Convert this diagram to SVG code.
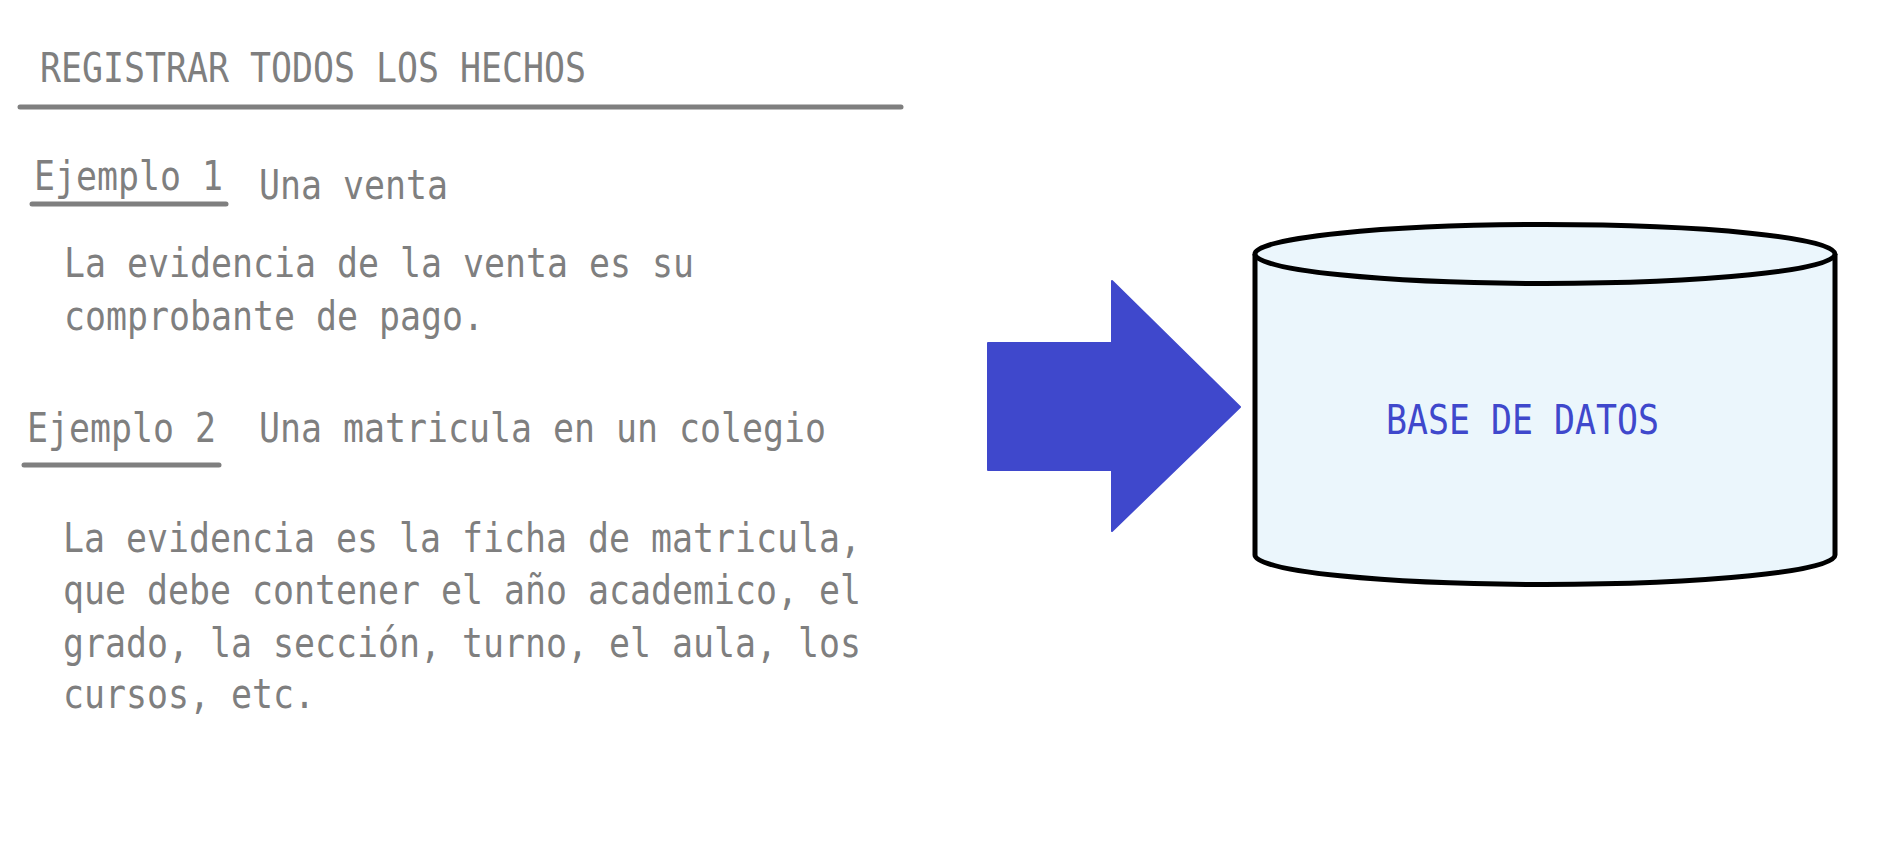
<svg xmlns="http://www.w3.org/2000/svg" width="1889" height="849" viewBox="0 0 1889 849">
<style>
.t{font-family:"DejaVu Sans Mono","Liberation Mono",monospace;font-size:40px;fill:#7F7F7F}
.u{stroke:#7F7F7F;stroke-width:5;stroke-linecap:round;fill:none}
.db{font-family:"DejaVu Sans Mono","Liberation Mono",monospace;font-size:40px;fill:#3F48CC}
</style>
<rect width="1889" height="849" fill="#FFFFFF"/>
<g id="title">
<text class="t" x="40" y="82" textLength="546" lengthAdjust="spacingAndGlyphs">REGISTRAR TODOS LOS HECHOS</text>
<line class="u" x1="20" y1="107" x2="901" y2="107"/>
</g>
<g id="ejemplo1">
<text class="t" x="34" y="190" textLength="189" lengthAdjust="spacingAndGlyphs">Ejemplo 1</text>
<line class="u" x1="32" y1="204" x2="226" y2="204"/>
<text class="t" x="259" y="199" textLength="189" lengthAdjust="spacingAndGlyphs">Una venta</text>
<text class="t" x="64" y="277" textLength="630" lengthAdjust="spacingAndGlyphs">La evidencia de la venta es su</text>
<text class="t" x="64" y="330" textLength="420" lengthAdjust="spacingAndGlyphs">comprobante de pago.</text>
</g>
<g id="ejemplo2">
<text class="t" x="27" y="442" textLength="189" lengthAdjust="spacingAndGlyphs">Ejemplo 2</text>
<line class="u" x1="24" y1="465" x2="219" y2="465"/>
<text class="t" x="259" y="442" textLength="567" lengthAdjust="spacingAndGlyphs">Una matricula en un colegio</text>
<text class="t" x="63" y="552" textLength="798" lengthAdjust="spacingAndGlyphs">La evidencia es la ficha de matricula,</text>
<text class="t" x="63" y="604" textLength="798" lengthAdjust="spacingAndGlyphs">que debe contener el año academico, el</text>
<text class="t" x="63" y="657" textLength="798" lengthAdjust="spacingAndGlyphs">grado, la sección, turno, el aula, los</text>
<text class="t" x="63" y="708" textLength="252" lengthAdjust="spacingAndGlyphs">cursos, etc.</text>
</g>
<g id="connectors">
<polygon points="988,343 1112,343 1112,281 1240,407 1112,531 1112,470 988,470" fill="#3F48CC" stroke="#3F48CC" stroke-width="2" stroke-linejoin="round"/>
</g>
<g id="basededatos">
<path d="M1255,254 L1255,555 A290,29.5 0 0 0 1835,555 L1835,254" fill="#EBF6FC" stroke="#000000" stroke-width="5"/>
<ellipse cx="1545" cy="254" rx="290" ry="29.5" fill="#EBF6FC" stroke="#000000" stroke-width="5"/>
<text class="db" x="1386" y="434" textLength="273" lengthAdjust="spacingAndGlyphs">BASE DE DATOS</text>
</g>
</svg>
